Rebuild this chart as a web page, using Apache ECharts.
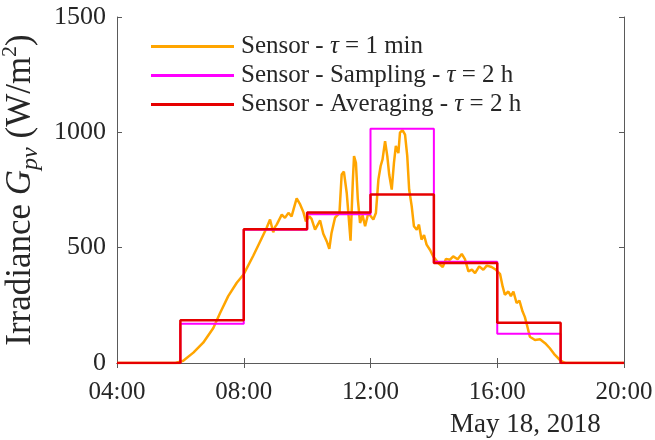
<!DOCTYPE html>
<html>
<head>
<meta charset="utf-8">
<script src="https://cdn.jsdelivr.net/npm/echarts@6/dist/echarts.min.js"></script>
<style>html,body{margin:0;padding:0;background:#fff;}#c{width:655px;height:440px;}</style>
</head>
<body>
<div id="c"></div>
<script>
// Hours of day (decimal) and irradiance values (W/m^2)
var sensorTime = [4,5.85,6.09,6.41,6.72,7.04,7.25,7.51,7.78,8.0,8.3,8.57,8.72,8.83,8.88,8.93,8.99,9.04,9.2,9.3,9.41,9.51,9.6,9.67,9.77,9.88,9.96,10.07,10.14,10.25,10.3,10.41,10.51,10.62,10.7,10.77,10.88,10.95,11.02,11.09,11.16,11.25,11.31,11.37,11.44,11.48,11.54,11.6,11.67,11.75,11.83,11.88,11.93,11.98,12.09,12.17,12.25,12.32,12.38,12.46,12.53,12.59,12.67,12.74,12.8,12.88,12.93,13.01,13.09,13.16,13.22,13.3,13.37,13.46,13.53,13.61,13.69,13.77,13.88,13.98,14.14,14.28,14.38,14.51,14.61,14.75,14.88,14.98,15.09,15.2,15.3,15.43,15.56,15.67,15.82,15.96,16.09,16.17,16.24,16.35,16.43,16.51,16.61,16.7,16.8,16.87,16.95,17.03,17.19,17.35,17.51,17.66,17.82,17.98,18.08,18.15,20];
var sensorValue = [0,0,10,45,88,152,216,290,348,385,465,542,585,622,625,567,590,600,643,629,651,636,680,714,690,655,614,636,625,578,575,618,560,527,495,564,630,640,650,817,830,737,636,530,781,897,868,709,607,640,593,593,650,658,622,650,796,854,883,962,897,817,752,868,941,910,999,1010,990,897,752,680,593,578,600,535,555,513,490,462,433,416,451,448,462,450,473,450,397,405,390,419,404,422,416,404,385,332,296,310,290,310,260,270,223,200,158,114,100,103,86,64,35,13,4,0,0];
// 2-hour blocks, value held from each start time
var blockTime = [4,6,8,10,12,14,16,18,20];
var samplingValue = [0,170,578,645,1016,439,127,0,0];
var averagingValue = [0,185,580,652,731,433,174,0,0];
var xTicks = [4,8,12,16,20];
var yTicks = [0,500,1000,1500];
var dateLabel = 'May 18, 2018';
var legendNames = ['Sensor - τ = 1 min','Sensor - Sampling - τ = 2 h','Sensor - Averaging - τ = 2 h'];

function zip(a,b){return a.map(function(v,i){return [v,b[i]];});}
function fmtHour(v){var h=Math.round(v);return (h<10?'0':'')+h+':00';}

var chart = echarts.init(document.getElementById('c'), null, {renderer:'canvas'});
var serif = '"Liberation Serif", "DejaVu Serif", serif';
var axisCol = '#5a5a5a';
var txtCol = '#262626';
var option = {
  animation:false,
  backgroundColor:'#fff',
  grid:{left:117,right:31,top:17,bottom:77,containLabel:false,outerBoundsMode:'none'},
  legend:{
    data:legendNames,
    orient:'vertical',
    left:146, top:29,
    itemWidth:83, itemHeight:3, itemGap:4,
    icon:'rect',
    textStyle:{fontFamily:serif,fontSize:25,color:txtCol,padding:[0,0,0,2],
      rich:{a:{fontFamily:serif,fontSize:25,color:txtCol},i:{fontFamily:serif,fontSize:25,fontStyle:'italic',color:txtCol}}},
    formatter:function(n){var p=n.split('τ');return '{a|'+p[0]+'}{i|τ}{a|'+p[1]+'}';}
  },
  xAxis:[{
    type:'value',min:4,max:20,interval:4,
    axisLine:{show:true,onZero:false,lineStyle:{color:axisCol,width:1}},
    axisTick:{show:true,inside:true,length:5,lineStyle:{color:axisCol}},
    axisLabel:{formatter:fmtHour,fontFamily:serif,fontSize:25,color:txtCol,margin:17,showMinLabel:true,showMaxLabel:true},
    splitLine:{show:false}
  },{
    type:'value',min:4,max:20,interval:4,position:'top',
    axisLine:{show:true,lineStyle:{color:axisCol,width:1}},
    axisTick:{show:true,inside:true,length:5,lineStyle:{color:axisCol}},
    axisLabel:{show:false},splitLine:{show:false}
  }],
  yAxis:[{
    type:'value',min:0,max:1500,interval:500,
    axisLine:{show:true,lineStyle:{color:axisCol,width:1}},
    axisTick:{show:true,inside:true,length:5,lineStyle:{color:axisCol}},
    axisLabel:{fontFamily:serif,fontSize:26,color:txtCol,margin:11,formatter:function(v){return String(v);}},
    splitLine:{show:false},
    name:'{a|Irradiance }{i|G}{s|pv}{a| (W/m}{p|2}{a|)}',
    nameLocation:'middle',nameGap:74,nameRotate:90,
    nameTextStyle:{fontFamily:serif,fontSize:35,color:txtCol,
      rich:{
        a:{fontFamily:serif,fontSize:35,color:txtCol,lineHeight:44,verticalAlign:'middle'},
        i:{fontFamily:serif,fontSize:35,fontStyle:'italic',color:txtCol,lineHeight:44,verticalAlign:'middle'},
        s:{fontFamily:serif,fontSize:24,fontStyle:'italic',color:txtCol,verticalAlign:'bottom',lineHeight:44},
        p:{fontFamily:serif,fontSize:22,color:txtCol,verticalAlign:'top',lineHeight:44}
      }}
  },{
    type:'value',min:0,max:1500,interval:500,position:'right',
    axisLine:{show:true,lineStyle:{color:axisCol,width:1}},
    axisTick:{show:true,inside:true,length:5,lineStyle:{color:axisCol}},
    axisLabel:{show:false},splitLine:{show:false}
  }],
  series:[
    {name:legendNames[0],type:'line',data:zip(sensorTime,sensorValue),showSymbol:false,symbol:'none',
     lineStyle:{color:'#ffa500',width:2.5},itemStyle:{color:'#ffa500'},z:2},
    {name:legendNames[1],type:'line',step:'end',data:zip(blockTime,samplingValue),showSymbol:false,symbol:'none',
     lineStyle:{color:'#ff00ff',width:2},itemStyle:{color:'#ff00ff'},z:3},
    {name:legendNames[2],type:'line',step:'end',data:zip(blockTime,averagingValue),showSymbol:false,symbol:'none',
     lineStyle:{color:'#e60000',width:2.5},itemStyle:{color:'#e60000'},z:4}
  ],
  graphic:[{type:'text',left:450,top:411,style:{text:dateLabel,font:'27px '+serif,fill:txtCol}}]
};
chart.setOption(option);
</script>
</body>
</html>
